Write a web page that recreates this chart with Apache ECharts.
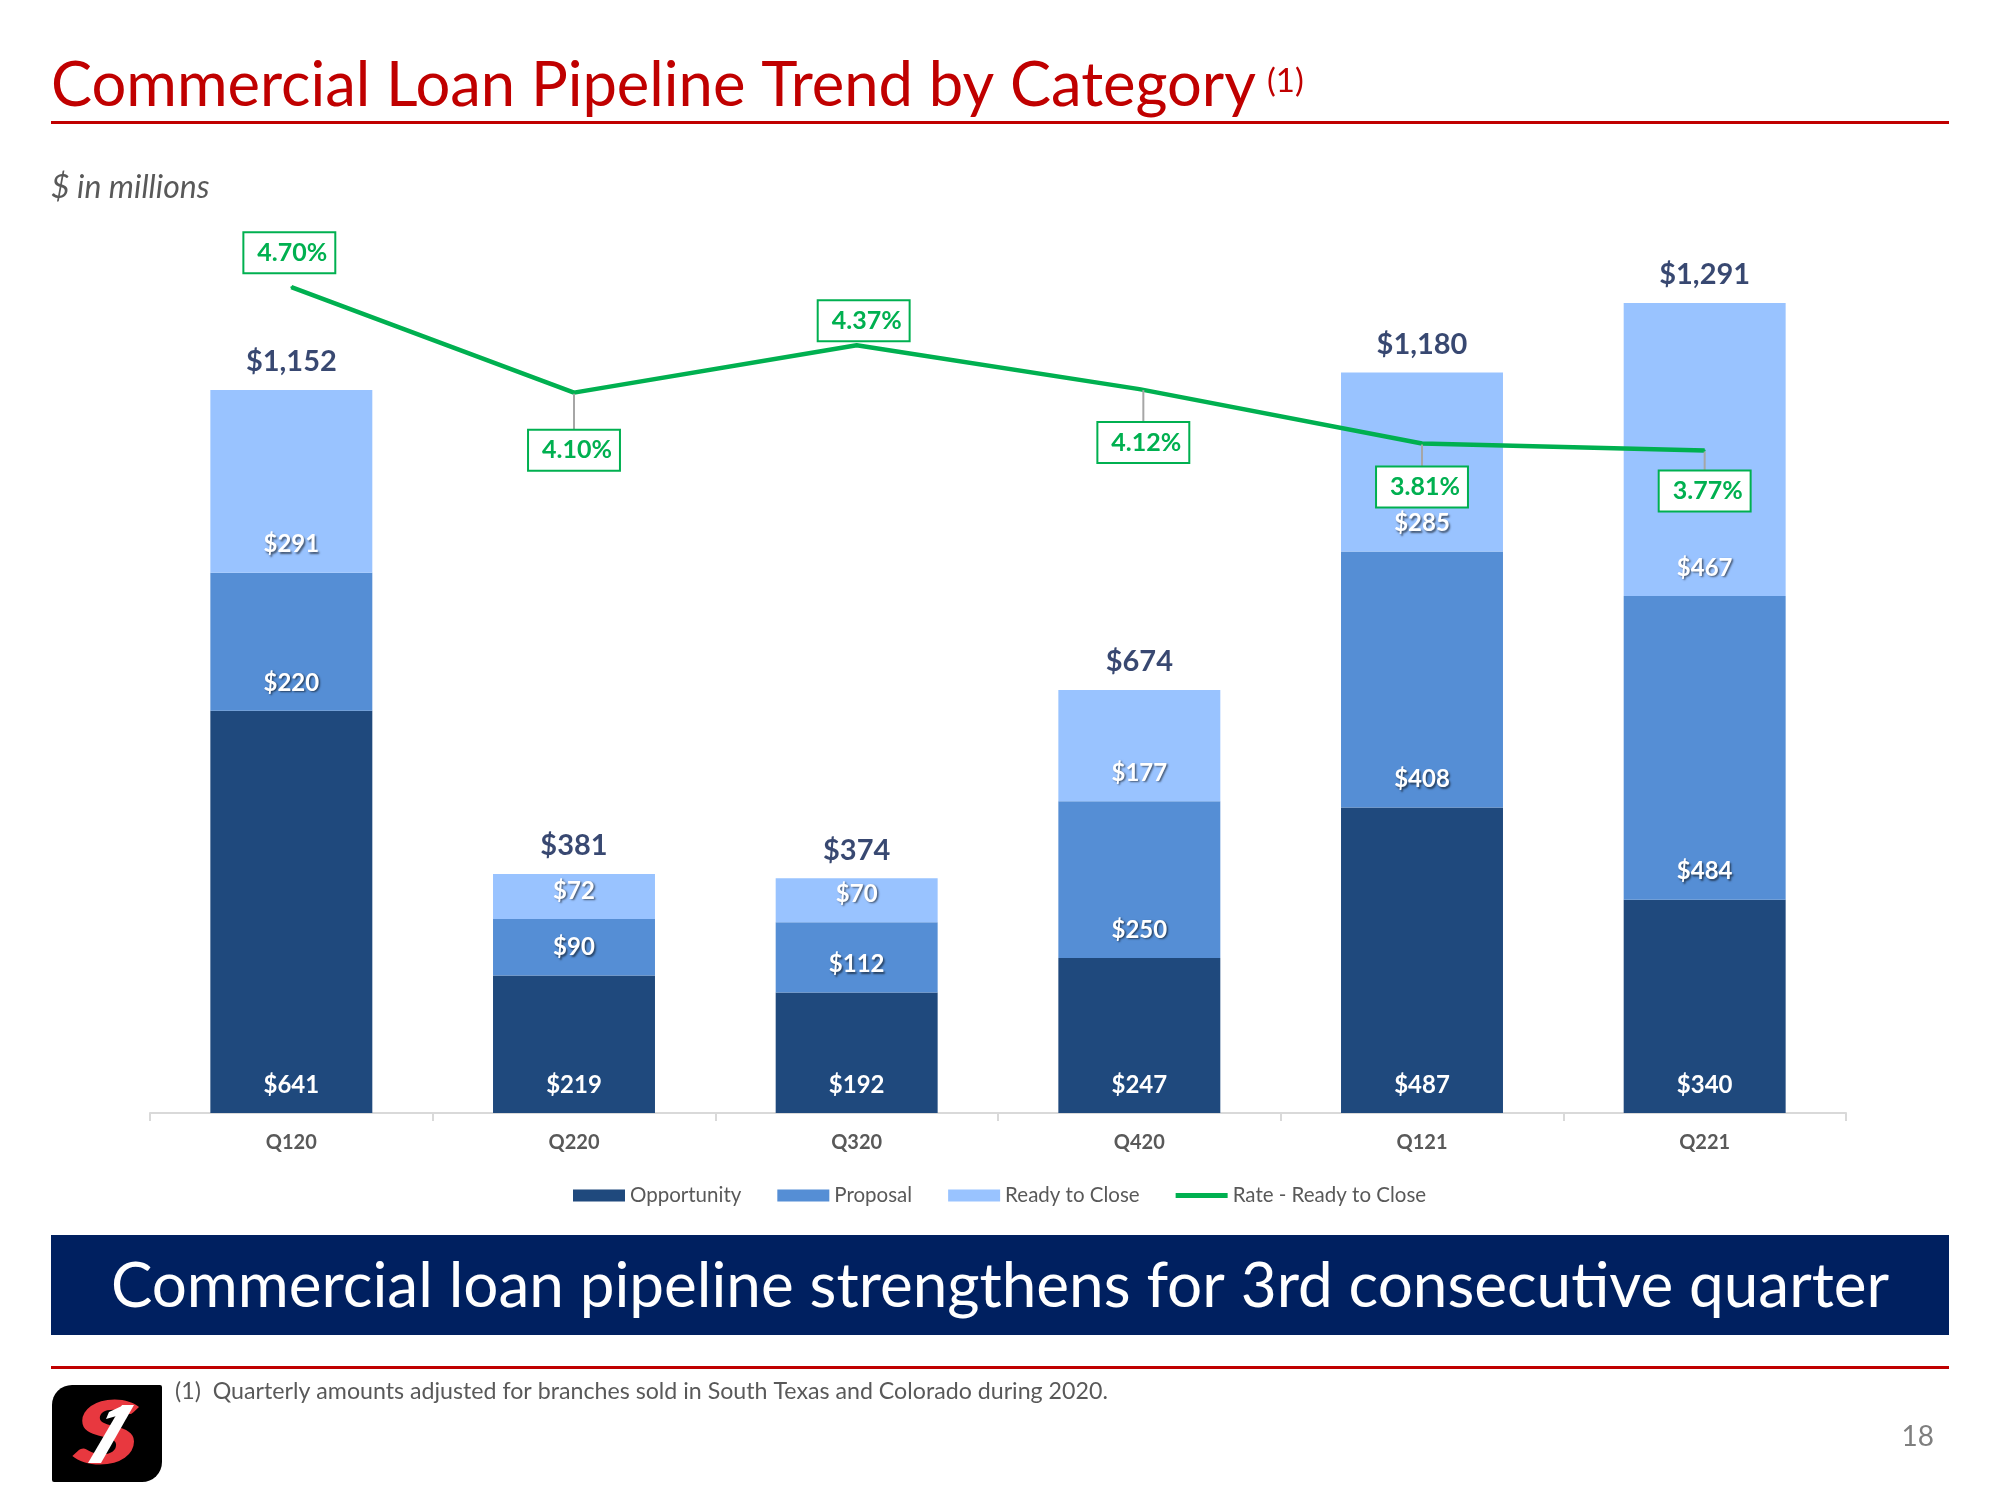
<!DOCTYPE html>
<html>
<head>
<meta charset="utf-8">
<script src="https://cdn.jsdelivr.net/npm/echarts@6/dist/echarts.min.js"></script>
<style>
  html, body { margin: 0; padding: 0; background: #ffffff; }
  #chart { width: 2000px; height: 1500px; }
</style>
</head>
<body>
<div id="chart"></div>
<script>
// ---- Data ----
const categories = ['Q120', 'Q220', 'Q320', 'Q420', 'Q121', 'Q221'];
const opportunity = [641, 219, 192, 247, 487, 340];
const proposal = [220, 90, 112, 250, 408, 484];
const readyToClose = [291, 72, 70, 177, 285, 467];
const rateReadyToClose = [4.70, 4.10, 4.37, 4.12, 3.81, 3.77];
const seriesNames = ['Opportunity', 'Proposal', 'Ready to Close', 'Rate - Ready to Close'];

// ---- Label placement for rate boxes (style only) ----
// pos: side of the point; dist: gap; stem: length of grey leader line (0 = none)
const ratePlacement = [
  { pos: 'top', dist: 21, dx: -2, stem: 0 },
  { pos: 'bottom', dist: 0, dx: 0, stem: 44 },
  { pos: 'top', dist: 11, dx: 7, stem: 0 },
  { pos: 'bottom', dist: 0, dx: 4, stem: 40 },
  { pos: 'bottom', dist: 0, dx: 0, stem: 30 },
  { pos: 'bottom', dist: 0, dx: 0, stem: 27 }
];

const totals = categories.map((c, i) => opportunity[i] + proposal[i] + readyToClose[i]);

const FONT = 'Lato, "Open Sans", sans-serif';
const C_OPP = '#1F497D';
const C_PROP = '#558ED5';
const C_READY = '#99C3FF';
const C_GREEN = '#00B050';
const C_RED = '#C00000';
const C_NAVY = '#002060';
const C_GRAY = '#595959';

function measure(text, font) {
  const ctx = document.createElement('canvas').getContext('2d');
  ctx.font = font;
  return ctx.measureText(text).width;
}

const titleText = 'Commercial Loan Pipeline Trend by Category';
const titleSize = 61.5;
const titleW = measure(titleText, titleSize + 'px Lato');

const chart = echarts.init(document.getElementById('chart'), null, { renderer: 'canvas' });

const segLabel = (shadow) => ({
  show: true,
  position: 'insideBottom',
  distance: 16,
  color: '#ffffff',
  fontFamily: FONT,
  fontWeight: 'bold',
  fontSize: 24,
  lineHeight: 24,
  formatter: (p) => '$' + p.value,
  textShadowColor: shadow ? 'rgba(0,0,0,0.55)' : 'transparent',
  textShadowBlur: shadow ? 2 : 0,
  textShadowOffsetX: shadow ? 1.5 : 0,
  textShadowOffsetY: shadow ? 1.5 : 0
});

const rateLabel = (pl) => ({
  show: true,
  position: pl.pos,
  distance: pl.dist,
  offset: [pl.dx, 0],
  formatter: (p) => (pl.stem ? '{stem| }\n' : '') + '{box|' + p.value.toFixed(2) + '%}',
  rich: {
    box: {
      color: C_GREEN, fontFamily: FONT, fontWeight: 'bold', fontSize: 25, lineHeight: 25,
      backgroundColor: '#ffffff', borderColor: C_GREEN, borderWidth: 2,
      padding: [7, 7, 7, 13], align: 'center'
    },
    stem: {
      width: 2, height: pl.stem || 1, lineHeight: pl.stem || 1, fontSize: 1,
      backgroundColor: '#A6A6A6', align: 'center'
    }
  }
});

const option = {
  animation: false,
  backgroundColor: '#ffffff',
  grid: { left: 150, right: 154, top: 234.5, bottom: 387, containLabel: false },
  legend: {
    left: 568,
    top: 1180,
    itemWidth: 52,
    itemHeight: 12,
    itemGap: 36,
    textStyle: { fontFamily: FONT, fontSize: 20.5, color: C_GRAY, padding: [0, 0, 0, 0] },
    data: [
      { name: seriesNames[0], icon: 'rect' },
      { name: seriesNames[1], icon: 'rect' },
      { name: seriesNames[2], icon: 'rect' },
      { name: seriesNames[3], icon: 'path://M0 0H52V5H0Z' }
    ]
  },
  xAxis: {
    type: 'category',
    data: categories,
    axisLine: { show: true, lineStyle: { color: '#D9D9D9', width: 2 } },
    axisTick: { show: true, length: 8, lineStyle: { color: '#D9D9D9', width: 2 } },
    axisLabel: { margin: 20, fontFamily: FONT, fontWeight: 'bold', fontSize: 20, color: C_GRAY }
  },
  yAxis: [
    { type: 'value', min: 0, max: 1400, show: false, splitLine: { show: false } },
    { type: 'value', min: 0, max: 5, show: false, splitLine: { show: false } }
  ],
  series: [
    {
      name: seriesNames[0], type: 'bar', stack: 'pipe', barWidth: '57.3%',
      itemStyle: { color: C_OPP }, data: opportunity, label: segLabel(false)
    },
    {
      name: seriesNames[1], type: 'bar', stack: 'pipe',
      itemStyle: { color: C_PROP }, data: proposal, label: segLabel(true)
    },
    {
      name: seriesNames[2], type: 'bar', stack: 'pipe',
      itemStyle: { color: C_READY }, data: readyToClose, label: segLabel(true)
    },
    {
      name: 'Total', type: 'scatter', symbol: 'circle', symbolSize: 1,
      itemStyle: { color: 'rgba(0,0,0,0)' },
      data: totals,
      silent: true,
      z: 5,
      label: {
        show: true, position: 'top', distance: 13,
        color: '#061A4D', fontFamily: FONT, fontWeight: 'bold', fontSize: 29,
        formatter: (p) => '$' + p.value.toLocaleString('en-US')
      }
    },
    {
      name: seriesNames[3], type: 'line', yAxisIndex: 1,
      symbol: 'circle', symbolSize: 2,
      lineStyle: { color: C_GREEN, width: 4.5 },
      itemStyle: { color: C_GREEN },
      z: 10,
      data: rateReadyToClose.map((v, i) => ({ value: v, label: rateLabel(ratePlacement[i]) })),
      label: { show: true }
    }
  ],
  graphic: [
    { type: 'text', x: 51, y: 86, style: { text: titleText, fill: C_RED, fontFamily: FONT, fontSize: titleSize, verticalAlign: 'middle', align: 'left' } },
    { type: 'text', x: 51 + titleW + 11, y: 81, style: { text: '(1)', fill: C_RED, fontFamily: FONT, fontSize: 33, verticalAlign: 'middle', align: 'left' } },
    { type: 'rect', shape: { x: 51, y: 121, width: 1898, height: 3 }, style: { fill: C_RED } },
    { type: 'text', x: 51, y: 188, style: { text: '$ in millions', fill: C_GRAY, fontFamily: FONT, fontStyle: 'italic', fontSize: 32, verticalAlign: 'middle', align: 'left' } },
    { type: 'rect', shape: { x: 51, y: 1235, width: 1898, height: 100 }, style: { fill: C_NAVY } },
    { type: 'text', x: 1000, y: 1287, style: { text: 'Commercial loan pipeline strengthens for 3rd consecutive quarter', fill: '#ffffff', fontFamily: FONT, fontSize: 62, verticalAlign: 'middle', align: 'center' } },
    { type: 'rect', shape: { x: 51, y: 1366, width: 1898, height: 3 }, style: { fill: C_RED } },
    { type: 'text', x: 175, y: 1392, style: { text: '(1)  Quarterly amounts adjusted for branches sold in South Texas and Colorado during 2020.', fill: C_GRAY, fontFamily: FONT, fontSize: 23.2, verticalAlign: 'middle', align: 'left' } },
    { type: 'text', x: 1934, y: 1437, style: { text: '18', fill: '#7F7F7F', fontFamily: FONT, fontSize: 28, verticalAlign: 'middle', align: 'right' } },
    // logo
    { type: 'rect', shape: { x: 52, y: 1385, width: 110, height: 97, r: [20, 2, 20, 2] }, style: { fill: '#000000' } },
    { type: 'text', x: 106, y: 1436, scaleX: 1.45, style: { text: 'S', fill: '#E8383F', fontFamily: FONT, fontWeight: 900, fontStyle: 'italic', fontSize: 88, verticalAlign: 'middle', align: 'center' } },
    { type: 'polygon', shape: { points: [[122, 1405], [134, 1405], [101, 1463], [88, 1463]] }, style: { fill: '#ffffff' } },
    { type: 'polygon', shape: { points: [[109, 1412], [124, 1405], [120, 1415], [106, 1419]] }, style: { fill: '#ffffff' } }
  ]
};

chart.setOption(option);
</script>
</body>
</html>
